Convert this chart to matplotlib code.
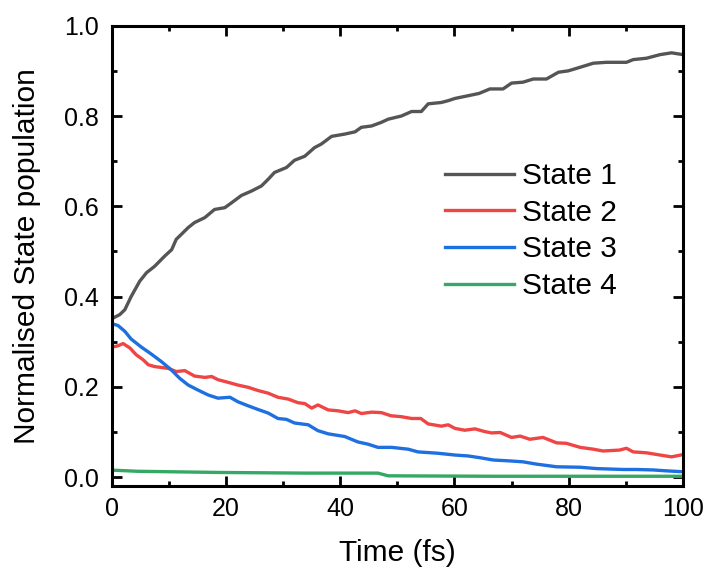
#!/usr/bin/env python3
"""
State population vs time for four electronic states.
"""

import matplotlib
matplotlib.use("Agg")
import matplotlib.pyplot as plt
from matplotlib.ticker import MultipleLocator

# values
t1 = [0, 1.4, 2.3, 3.4, 4.9, 6.1, 7.5, 9.3, 10.5, 11.3, 12.2, 13.4, 14.5, 16.3, 18.0,
      19.8, 21.0, 22.7, 24.5, 26.2, 27.4, 28.5, 30.6, 32.0, 33.8, 35.5, 36.7, 38.5,
      40.8, 42.6, 43.7, 45.5, 47.2, 48.4, 50.7, 52.5, 54.2, 55.4, 57.7, 58.9, 60.1,
      62.4, 64.3, 66.2, 68.5, 70.0, 72.0, 73.8, 76.1, 78.2, 79.9, 82.0, 84.3, 86.6,
      90.1, 91.3, 93.6, 96.0, 98.0, 100]
state1 = [0.351, 0.36, 0.371, 0.40, 0.434, 0.453, 0.467, 0.49, 0.504, 0.527, 0.538,
          0.553, 0.564, 0.575, 0.593, 0.597, 0.608, 0.624, 0.634, 0.645, 0.66, 0.675,
          0.686, 0.702, 0.711, 0.73, 0.738, 0.755, 0.76, 0.765, 0.775, 0.778, 0.786,
          0.793, 0.80, 0.81, 0.81, 0.827, 0.83, 0.834, 0.839, 0.845, 0.85, 0.86, 0.86,
          0.873, 0.875, 0.882, 0.882, 0.897, 0.90, 0.908, 0.917, 0.919, 0.919, 0.925,
          0.928, 0.936, 0.94, 0.936]

t2 = [0, 1.1, 2.0, 3.2, 4.3, 5.5, 6.4, 7.5, 9.9, 11.3, 12.8, 14.5, 16.3, 17.5, 18.6,
      20.4, 22.1, 23.9, 25.6, 27.4, 29.1, 30.9, 32.6, 33.8, 35.0, 36.1, 37.9, 39.6,
      41.4, 42.6, 43.7, 45.5, 47.2, 48.9, 50.7, 52.5, 54.1, 55.4, 57.7, 58.9, 60.1,
      61.8, 63.6, 65.3, 66.5, 68.0, 70.0, 71.5, 73.2, 75.5, 77.9, 79.6, 82.0, 84.3,
      86.0, 88.9, 90.1, 91.3, 93.6, 96.0, 98.0, 100]
state2 = [0.288, 0.291, 0.296, 0.286, 0.271, 0.26, 0.249, 0.245, 0.241, 0.234, 0.236,
          0.224, 0.221, 0.223, 0.216, 0.21, 0.204, 0.199, 0.192, 0.186, 0.177, 0.173,
          0.165, 0.163, 0.153, 0.16, 0.149, 0.147, 0.143, 0.147, 0.141, 0.144, 0.143,
          0.136, 0.134, 0.13, 0.13, 0.118, 0.113, 0.116, 0.108, 0.104, 0.107, 0.101,
          0.098, 0.099, 0.088, 0.091, 0.084, 0.088, 0.076, 0.075, 0.066, 0.062, 0.058,
          0.06, 0.064, 0.056, 0.054, 0.049, 0.045, 0.05]

t3 = [0, 1.1, 2.3, 3.4, 5.2, 6.9, 8.7, 10.4, 11.9, 13.4, 15.1, 16.9, 18.6, 20.7, 22.1,
      23.9, 25.6, 27.4, 29.1, 30.6, 32.0, 34.4, 36.1, 37.9, 40.8, 43.1, 44.9, 46.6,
      49.0, 51.9, 53.6, 57.1, 60.1, 62.4, 64.5, 66.8, 69.7, 72.0, 74.3, 77.9, 82.0,
      84.9, 89.6, 91.9, 94.8, 97.1, 100]
state3 = [0.34, 0.336, 0.323, 0.306, 0.288, 0.273, 0.256, 0.238, 0.219, 0.204, 0.193,
          0.182, 0.175, 0.177, 0.167, 0.158, 0.15, 0.142, 0.13, 0.128, 0.12, 0.116,
          0.103, 0.096, 0.09, 0.078, 0.073, 0.066, 0.066, 0.062, 0.056, 0.053, 0.049,
          0.047, 0.043, 0.038, 0.036, 0.034, 0.029, 0.023, 0.022, 0.019, 0.017, 0.017,
          0.016, 0.014, 0.012]

t4 = [0, 4.6, 19.2, 33.8, 46.6, 48.4, 67.0, 100]
state4 = [0.0156, 0.013, 0.0104, 0.009, 0.009, 0.003, 0.002, 0.002]

labels = ["State 1", "State 2", "State 3", "State 4"]
colors = ["#555555", "#F04545", "#1E6FE0", "#35A865"]


def main():
    plt.rcParams["font.family"] = ["Liberation Sans", "DejaVu Sans"]
    fig = plt.figure(figsize=(7.07, 5.72), dpi=100)
    ax = fig.add_axes([0.158, 0.150, 0.808, 0.805])

    for t, y, lab, c in zip([t1, t2, t3, t4], [state1, state2, state3, state4],
                            labels, colors):
        ax.plot(t, y, color=c, lw=2.4, label=lab)

    ax.set_xlim(0, 100)
    ax.set_ylim(-0.02, 1.0)
    ax.xaxis.set_major_locator(MultipleLocator(20))
    ax.xaxis.set_minor_locator(MultipleLocator(10))
    ax.yaxis.set_major_locator(MultipleLocator(0.2))
    ax.yaxis.set_minor_locator(MultipleLocator(0.1))
    ax.yaxis.set_major_formatter(lambda v, p: f"{v:.1f}")

    for s in ax.spines.values():
        s.set_linewidth(2.2)
    ax.tick_params(which="both", direction="in", top=True, right=True, width=2.0)
    ax.tick_params(which="major", length=7, labelsize=18)
    ax.tick_params(which="minor", length=3.6)
    ax.tick_params(axis="x", which="major", pad=8)
    ax.tick_params(axis="y", which="major", pad=9)

    ax.set_xlabel("Time (fs)", fontsize=21.5, labelpad=13)
    ax.set_ylabel("Normalised State population", fontsize=21.5, labelpad=17)

    ax.legend(loc="upper left", bbox_to_anchor=(0.629, 0.7165),
              bbox_transform=fig.transFigure, frameon=False, fontsize=21.5,
              handlelength=2.33, handletextpad=0.25, labelspacing=0.29,
              borderpad=0, borderaxespad=0)

    fig.savefig("out.png", dpi=100)


if __name__ == "__main__":
    main()
